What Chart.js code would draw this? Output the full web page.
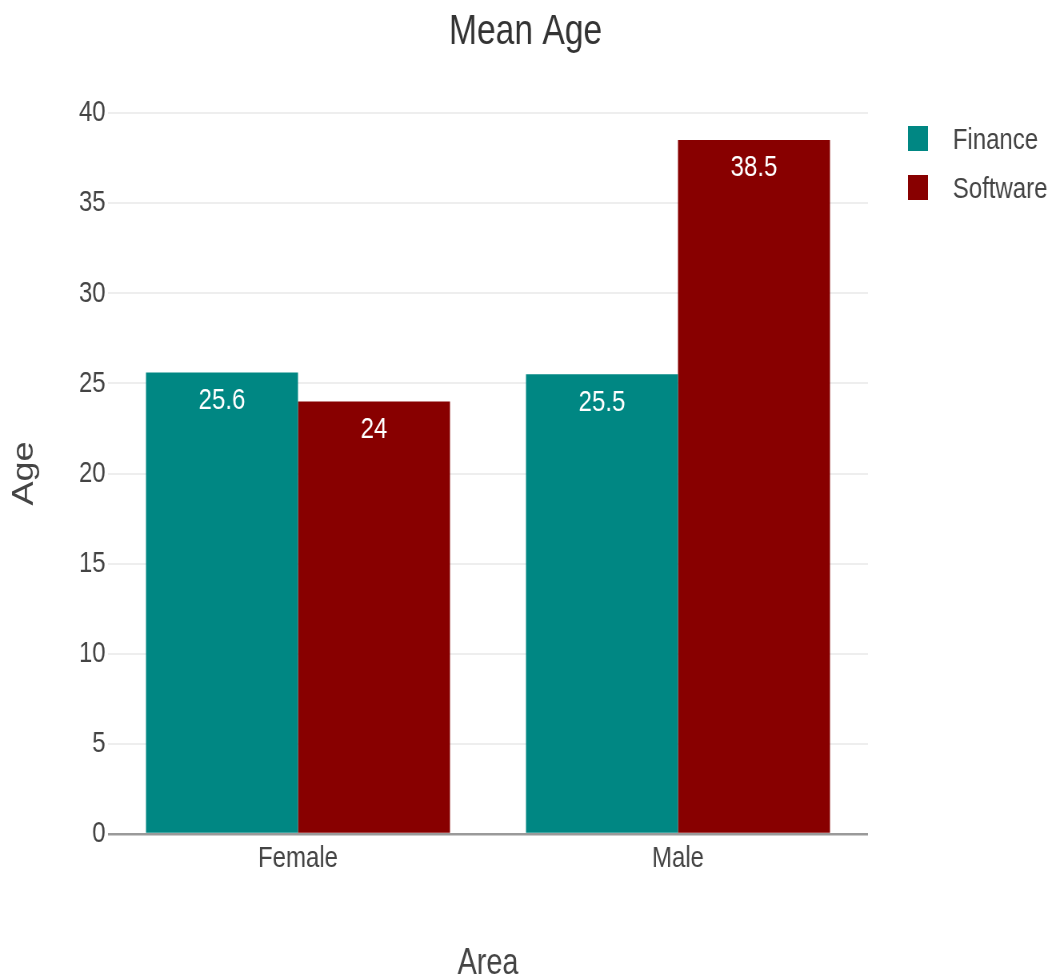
<!DOCTYPE html>
<html>
<head>
<meta charset="utf-8">
<title>Mean Age</title>
<script src="https://cdn.jsdelivr.net/npm/chart.js@4.4.1/dist/chart.umd.min.js"></script>
<style>
  html, body { margin: 0; padding: 0; background: #fff; overflow: hidden; }
  /* the reference is a horizontally squeezed render, so draw wide and squeeze */
  #chart { transform: scaleX(0.8); transform-origin: 0 0; display: block; }
</style>
</head>
<body>
<canvas id="chart" width="1314" height="978"></canvas>
<script>
// ---------- data ----------
const categories = ["Female", "Male"];
const financeAges = [25.6, 25.5];
const softwareAges = [24, 38.5];
const yTicks = [0, 5, 10, 15, 20, 25, 30, 35, 40];

// ---------- look ----------
const FONT = "'Liberation Sans', Arial, sans-serif";
const TEXT = "#444444";
const TEAL = "#008783";
const DARKRED = "#880000";

// value labels inside the top of each bar
const barLabels = {
  id: "barLabels",
  afterDatasetsDraw(chart) {
    const ctx = chart.ctx;
    ctx.save();
    ctx.font = "30px " + FONT;
    ctx.fillStyle = "#ffffff";
    ctx.textAlign = "center";
    ctx.textBaseline = "middle";
    chart.data.datasets.forEach((ds, i) => {
      chart.getDatasetMeta(i).data.forEach((bar, j) => {
        ctx.fillText(String(ds.data[j]), bar.x, bar.y + 28);
      });
    });
    ctx.restore();
  }
};

// plotly-ish legend on the right
const sideLegend = {
  id: "sideLegend",
  afterDraw(chart) {
    const ctx = chart.ctx;
    const x0 = chart.chartArea.right + 50;
    ctx.save();
    ctx.font = "30px " + FONT;
    ctx.textAlign = "left";
    ctx.textBaseline = "middle";
    chart.data.datasets.forEach((ds, i) => {
      const top = 126 + i * 49;
      ctx.fillStyle = ds.backgroundColor;
      ctx.fillRect(x0, top, 25, 25);
      ctx.fillStyle = TEXT;
      ctx.fillText(ds.label, x0 + 56, top + 15);
    });
    ctx.restore();
  }
};

new Chart(document.getElementById("chart"), {
  type: "bar",
  data: {
    labels: categories,
    datasets: [
      { label: "Finance", data: financeAges, backgroundColor: TEAL },
      { label: "Software", data: softwareAges, backgroundColor: DARKRED }
    ]
  },
  options: {
    responsive: false,
    animation: false,
    categoryPercentage: 0.8,
    barPercentage: 1.0,
    layout: { padding: 0 },
    plugins: {
      legend: { display: false },
      tooltip: { enabled: false },
      title: {
        display: true,
        text: "Mean Age",
        color: "#333333",
        font: { family: FONT, size: 42, weight: "normal" },
        padding: { top: 7, bottom: 55.6 }
      }
    },
    scales: {
      x: {
        grid: { display: false, drawTicks: false },
        border: { display: false },
        ticks: { color: TEXT, font: { family: FONT, size: 30 }, padding: 7 },
        title: {
          display: true,
          text: "Area",
          color: TEXT,
          font: { family: FONT, size: 36, lineHeight: 0.75 },
          padding: { top: 0, bottom: 0 }
        },
        afterFit(s) { s.height = 144; }
      },
      y: {
        min: 0,
        max: 40,
        afterBuildTicks(s) { s.ticks = yTicks.map(v => ({ value: v })); },
        grid: {
          drawTicks: false,
          color: c => (c.tick && c.tick.value === 0 ? "#9a9a9a" : "#eeeeee"),
          lineWidth: c => (c.tick && c.tick.value === 0 ? 2.5 : 2)
        },
        border: { display: false },
        ticks: { color: TEXT, font: { family: FONT, size: 30 }, padding: 3 },
        title: {
          display: true,
          text: "Age",
          color: TEXT,
          font: { family: FONT, size: 36 },
          padding: { top: 9, bottom: 0 }
        },
        afterFit(s) { s.width = 135; }
      },
      // empty axis that just keeps room for the legend on the right
      spacer: {
        position: "right",
        display: true,
        grid: { display: false, drawTicks: false },
        border: { display: false },
        ticks: { display: false },
        afterFit(s) { s.width = 229; }
      }
    }
  },
  plugins: [barLabels, sideLegend]
});
</script>
</body>
</html>
